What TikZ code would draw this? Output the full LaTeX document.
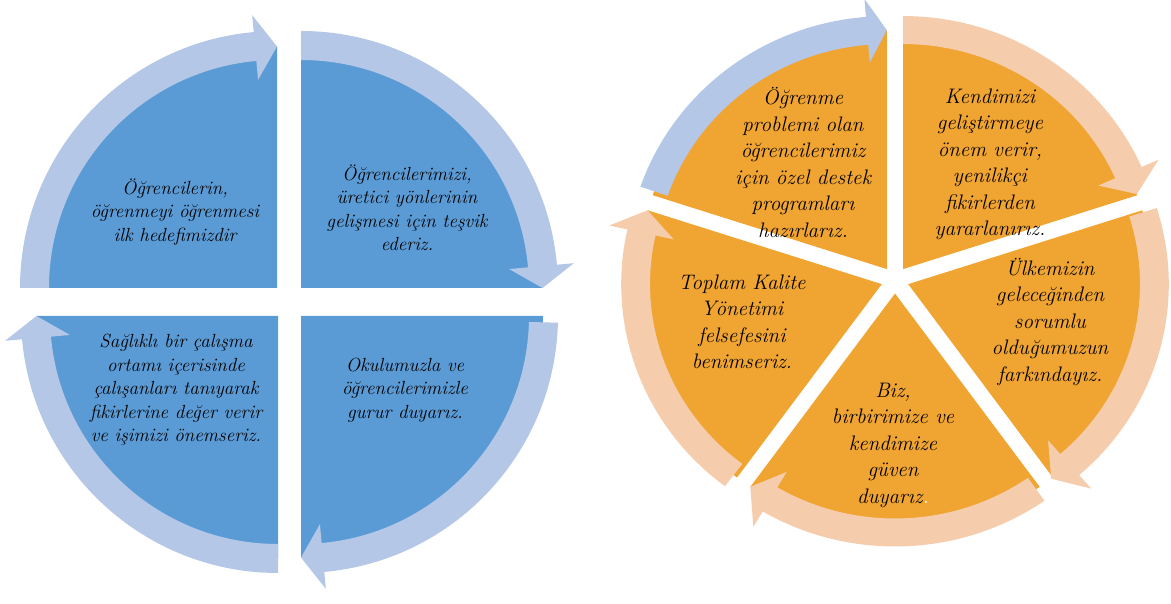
\documentclass[tikz,border=0pt]{standalone}
\usepackage{fontspec}
\definecolor{leftdark}{HTML}{5B9BD5}
\definecolor{lightblue}{HTML}{B4C7E7}
\definecolor{wedgeorange}{HTML}{F0A431}
\definecolor{peach}{HTML}{F6CDAC}
\newcommand\cycwedge[6]{%
  \pgfmathsetmacro\bxr{#3*\bRw}%
  \fill[#6] (#1,#2) -- ({#1+\bxr*cos(#4)},{#2+\bRw*sin(#4)}) arc[start angle=#4,end angle=#5,x radius=\bxr,y radius=\bRw] -- cycle;}
\newcommand\cycband[7]{%
  \pgfmathsetmacro\bxi{#3*\bRi}\pgfmathsetmacro\bxo{#3*\bRo}%
  \fill[#7] ({#1+\bxi*cos(#4)},{#2+\bRi*sin(#4)}) arc[start angle=#4,end angle=#5,x radius=\bxi,y radius=\bRi]
    -- ({#1+#3*\bHi*cos(#5)},{#2+\bHi*sin(#5)})
    -- ({#1+#3*\bRm*cos(#6)},{#2+\bRm*sin(#6)})
    -- ({#1+#3*\bHo*cos(#5)},{#2+\bHo*sin(#5)})
    -- ({#1+\bxo*cos(#5)},{#2+\bRo*sin(#5)}) arc[start angle=#5,end angle=#4,x radius=\bxo,y radius=\bRo] -- cycle;}
\begin{document}
\begin{tikzpicture}[x=1pt,y=1pt,
  ltext/.style={align=center,font=\itshape\fontsize{19}{23.5}\selectfont,text=black,inner sep=0pt},
  rtext/.style={align=center,font=\itshape\fontsize{21}{26.5}\selectfont,text=black,inner sep=0pt}]
\useasboundingbox (0,0) rectangle (1171,604);
% ---------- left figure ----------
\def\bRw{242}\def\bRi{228}\def\bRo{257}\def\bHi{209}\def\bHo{274}\def\bRm{241.5}
\cycwedge{277}{316}{1}{90}{180}{leftdark}
\cycwedge{301}{316}{1}{0}{90}{leftdark}
\cycwedge{301}{288}{1}{-90}{0}{leftdark}
\cycwedge{278}{288}{1}{180}{270}{leftdark}
\cycband{277}{316}{1}{180}{95.2}{90}{lightblue}
\cycband{301}{316}{1}{90}{5.2}{0}{lightblue}
\cycband{301}{288}{1}{-1.5}{-84.8}{-90}{lightblue}
\cycband{278}{288}{1}{270}{185.2}{180}{lightblue}
\node[ltext] (t1) at (175,392) {Öğrencilerin,\\öğrenmeyi öğrenmesi\\ilk hedefimizdir};
\node[ltext] (t2) at (407,396) {Öğrencilerimizi,\\üretici yönlerinin\\gelişmesi için teşvik\\ederiz.};
\node[ltext] (t3) at (405,214) {Okulumuzla ve\\öğrencilerimizle\\gurur duyarız.};
\node[ltext] (t4) at (176,214) {Sağlıklı bir çalışma\\ortamı içerisinde\\çalışanları tanıyarak\\fikirlerine değer verir\\ve işimizi önemseriz.};
% ---------- right figure ----------
\def\bRw{239}\def\bRi{225}\def\bRo{253}\def\bHi{207}\def\bHo{271}\def\bRm{239}
\cycwedge{886.83}{334.92}{1.03}{90}{162}{wedgeorange}
\cycwedge{903.17}{334.92}{1.03}{18}{90}{wedgeorange}
\cycwedge{908.22}{319.83}{1.03}{-54}{18}{wedgeorange}
\cycwedge{895}{310.5}{1.03}{234}{306}{wedgeorange}
\cycwedge{881.78}{319.83}{1.03}{162}{234}{wedgeorange}
\cycband{886.83}{334.92}{1.03}{161}{94.6}{90}{lightblue}
\cycband{903.17}{334.92}{1.03}{90}{23.8}{18.3}{peach}
\cycband{908.22}{319.83}{1.03}{17.5}{-49}{-54.5}{peach}
\cycband{895}{310.5}{1.03}{305}{239.5}{234}{peach}
\cycband{881.78}{319.83}{1.03}{233}{167.5}{162}{peach}
\node[rtext] (r1) at (803,441.5) {Öğrenme\\problemi olan\\öğrencilerimiz\\için özel destek\\programları\\hazırlarız.};
\node[rtext] (r2) at (990,439.5) {Kendimizi\\geliştirmeye\\önem verir,\\yenilikçi\\fikirlerden\\yararlanırız.};
\node[rtext] (r3) at (1050,282) {Ülkemizin\\geleceğinden\\sorumlu\\olduğumuzun\\farkındayız.};
\node[rtext] (r4) at (893,159) {Biz,\\birbirimize ve\\kendimize\\güven\\duyarız{\color{white}.}};
\node[rtext] (r5) at (742,282) {Toplam Kalite\\Yönetimi\\felsefesini\\benimseriz.};
\end{tikzpicture}
\end{document}
